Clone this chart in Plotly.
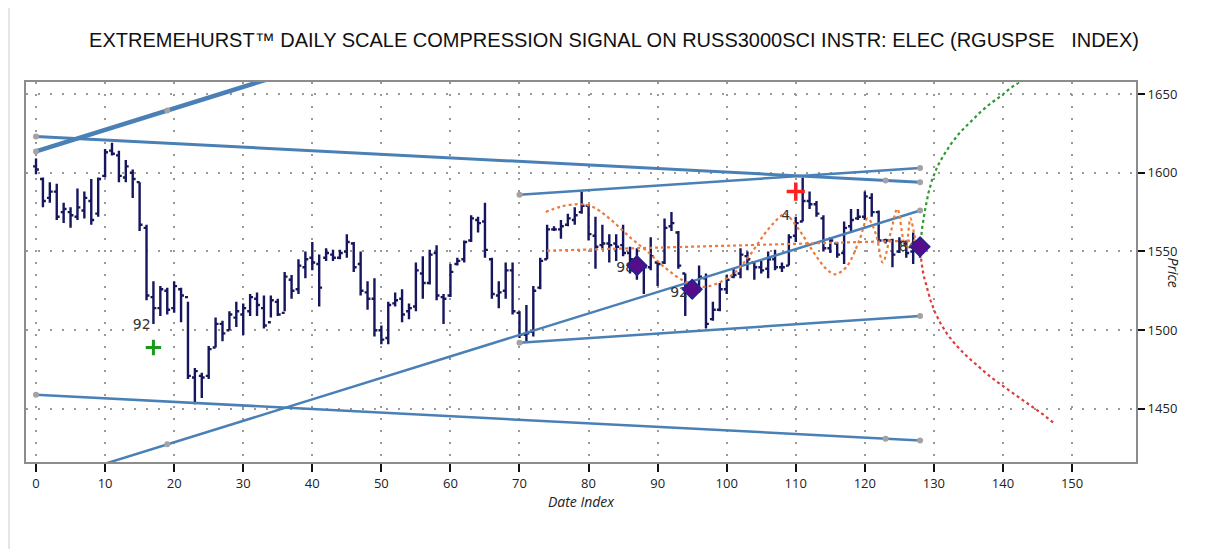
import plotly.graph_objects as go

# ---------------- data ----------------
bar_index = list(range(129))
opens = [1604,1596,1584,1588,1575,1575,1572,1576,1582,1574,1598,1614,1611,1597,1600,1594,1565,1521,1514,1525,
         1514,1526,1521,1470,1471,1471,1489,1504,1500,1508,1510,1512,1520,1514,1505,1518,1511,1532,1526,1540,
         1546,1542,1546,1548,1546,1550,1555,1542,1524,1520,1500,1495,1517,1520,1512,1515,1536,1530,1549,1521,
         1522,1542,1545,1557,1570,1569,1545,1522,1525,1538,1511,1497,1499,1527,1545,1564,1564,1567,1570,1575,
         1579,1560,1554,1555,1555,1554,1549,1545,1541,1540,1543,1543,1566,1562,1536,1527,1526,1533,1507,1513,
         1526,1534,1536,1547,1543,1540,1539,1545,1540,1541,1560,1569,1582,1580,1571,1552,1555,1549,1566,1571,
         1572,1584,1575,1557,1557,1550,1555,1550,1553]
highs = [1609,1597,1594,1593,1581,1578,1590,1588,1596,1597,1615,1619,1614,1608,1602,1594,1567,1531,1528,1527,
         1531,1527,1518,1476,1473,1490,1508,1506,1512,1518,1517,1523,1524,1522,1522,1520,1537,1535,1545,1550,
         1556,1548,1552,1551,1551,1561,1556,1550,1531,1533,1503,1518,1524,1526,1517,1543,1547,1551,1554,1523,
         1542,1546,1557,1573,1572,1581,1546,1531,1543,1543,1512,1516,1528,1546,1567,1566,1570,1574,1578,1588,
         1580,1572,1567,1561,1561,1567,1553,1552,1542,1559,1544,1571,1575,1563,1536,1530,1541,1536,1518,1530,
         1535,1539,1552,1550,1544,1544,1550,1551,1543,1561,1572,1597,1588,1582,1573,1559,1556,1569,1577,1577,
         1588,1587,1576,1558,1558,1559,1557,1562,1555]
lows = [1599,1578,1581,1570,1568,1565,1570,1571,1567,1572,1597,1611,1594,1594,1584,1563,1519,1504,1509,1510,
        1511,1505,1469,1453,1457,1469,1489,1493,1500,1502,1497,1509,1509,1501,1508,1509,1512,1520,1523,1533,
        1538,1515,1544,1544,1545,1546,1537,1522,1513,1496,1491,1491,1515,1505,1507,1512,1520,1529,1519,1504,
        1521,1541,1543,1556,1562,1546,1520,1514,1520,1510,1495,1493,1496,1526,1545,1563,1558,1566,1567,1574,
        1557,1539,1551,1543,1544,1547,1536,1532,1523,1538,1528,1542,1563,1539,1509,1520,1524,1501,1506,1512,
        1523,1533,1533,1538,1532,1536,1533,1538,1537,1541,1556,1569,1577,1572,1550,1549,1546,1542,1562,1570,
        1570,1572,1556,1555,1540,1549,1546,1542,1546]
closes = [1602,1582,1588,1572,1577,1573,1578,1584,1570,1596,1613,1612,1598,1604,1596,1567,1522,1514,1526,1513,
          1528,1522,1471,1474,1470,1488,1504,1498,1510,1512,1514,1521,1516,1503,1519,1510,1534,1525,1541,1545,
          1543,1527,1549,1546,1549,1556,1540,1525,1520,1500,1494,1516,1519,1510,1514,1538,1530,1548,1522,1520,
          1537,1544,1556,1571,1568,1551,1523,1524,1538,1512,1497,1498,1525,1544,1564,1564,1566,1571,1573,1579,
          1561,1553,1555,1554,1553,1549,1545,1540,1540,1547,1542,1565,1568,1541,1526,1525,1534,1504,1513,1526,
          1532,1535,1548,1545,1540,1538,1545,1540,1540,1559,1568,1582,1580,1574,1552,1557,1548,1565,1570,1572,
          1585,1575,1557,1557,1548,1556,1549,1555,1552]

# trend lines: (x0, y0, x1, y1, width)
trend_x0 = [0, 0, 70, 70, 5, 0]
trend_y0 = [1613.5, 1623, 1586, 1492, 1408.4, 1459]
trend_x1 = [40, 128, 128, 128, 128, 128]
trend_y1 = [1668.2, 1594, 1603, 1509, 1576, 1430]
trend_w = [4.5, 3, 2.5, 2.5, 2.5, 2.5]

anchor_x = [0, 19, 0, 123, 128, 70, 128, 70, 128, 19, 128, 0, 123, 128]
anchor_y = [1613.5, 1639.5, 1623, 1595, 1594, 1586, 1603, 1492, 1509, 1427.5, 1576, 1459, 1431, 1430]

# cycle projection curves
orange_x = [73.8, 76, 78.5, 80.5, 83, 86, 88.5, 91, 93.5, 96.3, 98.5, 101, 103.4, 105.8, 107.7, 108.4,
            110.6, 112.5, 114.4, 115.7, 117.3, 119.2, 120.4, 121.6, 122.6, 123.8, 124.7, 125.6, 126,
            126.6, 127.2, 127.7]
orange_y = [1575, 1578.5, 1580, 1578.5, 1571, 1559, 1550, 1540, 1532, 1527.5, 1529.5, 1536, 1548, 1563,
            1572, 1574, 1563, 1550, 1539, 1535.5, 1540, 1557, 1571, 1561, 1543, 1563, 1577, 1557, 1553,
            1571, 1560, 1552]
flat_x = [74, 128]
flat_y = [1550.5, 1557]

green_x = [128, 128.3, 128.7, 129.2, 129.7, 130.5, 131.4, 132.5, 133.8, 135.2, 136.7, 138.2, 139.8,
           141, 142.2, 143]
green_y = [1553, 1565, 1576, 1587, 1595, 1604, 1611, 1618.5, 1625.7, 1632, 1638.4, 1644, 1649,
           1653.5, 1657, 1660]
red_x = [128, 128.2, 128.5, 129, 129.5, 130.2, 131, 132, 133.2, 134.5, 136, 137.6, 139.2,
         140.8, 142.4, 144, 145.8, 147.5]
red_y = [1553, 1543, 1535, 1526, 1519, 1511, 1504, 1497, 1490.5, 1484.5, 1478.5, 1472.5, 1467,
         1462, 1457, 1452, 1446.5, 1440.6]

diamond_x = [87, 95, 128]
diamond_y = [1541, 1526, 1553]
label_x = [16.6, 86.6, 94.4, 109.2, 127.5]
label_y = [1503, 1539, 1523.3, 1572.3, 1552.5]
label_text = ["92", "98", "92", "4", "84"]
buy_x, buy_y = [17], [1489]
sell_x, sell_y = [110], [1588]

x_ticks = list(range(0, 151, 10))
y_ticks = [1450, 1500, 1550, 1600, 1650]

TITLE = "EXTREMEHURST\u2122 DAILY SCALE COMPRESSION SIGNAL ON RUSS3000SCI INSTR: ELEC (RGUSPSE\u00a0\u00a0\u00a0INDEX)"

# ---------------- figure ----------------
# the html page adds an 8px body margin, so the figure is laid out 8px up/left
W, H = 1202, 541
L, R, T, B = 18, 74, 74, 87
PW, PH = W - L - R, H - T - B

fig = go.Figure()
LINE_C = "#4a80b6"

for x0, y0, x1, y1, w in zip(trend_x0, trend_y0, trend_x1, trend_y1, trend_w):
    fig.add_trace(go.Scatter(x=[x0, x1], y=[y0, y1], mode="lines",
                             line=dict(color=LINE_C, width=w), hoverinfo="skip"))

fig.add_trace(go.Scatter(x=anchor_x, y=anchor_y, mode="markers",
                         marker=dict(color="#a3a3a3", size=6), hoverinfo="skip"))

fig.add_trace(go.Scatter(x=flat_x, y=flat_y, mode="lines",
                         line=dict(color="#ee7a3a", width=2.2, dash="dot"), hoverinfo="skip"))
fig.add_trace(go.Scatter(x=orange_x, y=orange_y, mode="lines", line_shape="spline",
                         line=dict(color="#ee7a3a", width=2.2, dash="dot"), hoverinfo="skip"))

fig.add_trace(go.Ohlc(x=bar_index, open=opens, high=highs, low=lows, close=closes,
                      increasing=dict(line=dict(color="#16165e", width=2.4)),
                      decreasing=dict(line=dict(color="#16165e", width=2.4)),
                      tickwidth=0.42, hoverinfo="skip"))

fig.add_trace(go.Scatter(x=green_x, y=green_y, mode="lines",
                         line=dict(color="#2c9a2c", width=2.2, dash="dot"), hoverinfo="skip"))
fig.add_trace(go.Scatter(x=red_x, y=red_y, mode="lines",
                         line=dict(color="#e23a3a", width=2.2, dash="dot"), hoverinfo="skip"))

fig.add_trace(go.Scatter(x=label_x, y=label_y, mode="text", text=label_text,
                         textposition="middle left",
                         textfont=dict(family="DejaVu Sans", size=14, color="#333333"),
                         hoverinfo="skip"))

fig.add_trace(go.Scatter(x=diamond_x, y=diamond_y, mode="markers",
                         marker=dict(symbol="diamond", size=15, color="#560d8c",
                                     line=dict(color="#22228e", width=1.5)), hoverinfo="skip"))
fig.add_trace(go.Scatter(x=buy_x, y=buy_y, mode="markers",
                         marker=dict(symbol="cross-thin", size=11, color="#1a9a1a",
                                     line=dict(color="#1a9a1a", width=3)), hoverinfo="skip"))
fig.add_trace(go.Scatter(x=sell_x, y=sell_y, mode="markers",
                         marker=dict(symbol="cross-thin", size=13, color="#ff2020",
                                     line=dict(color="#ff2020", width=3.5)), hoverinfo="skip"))

fig.update_layout(
    width=W, height=H,
    margin=dict(l=L, r=R, t=T, b=B),
    paper_bgcolor="white", plot_bgcolor="white",
    showlegend=False,
    font=dict(family="Open Sans", size=13, color="#222222"),
    title=dict(text=TITLE, x=(614 - 8) / W, xref="container", xanchor="center",
               y=1 - (40 - 8) / H, yref="container", yanchor="middle",
               font=dict(family="Liberation Sans", size=20, color="#111111")),
    xaxis=dict(range=[-1.45, 159.26], tickmode="array", tickvals=x_ticks,
               rangeslider=dict(visible=False),
               showgrid=True, gridcolor="#999999", gridwidth=1.6, griddash="2px,10px",
               zeroline=False, showline=True, linecolor="#8c8c8c", linewidth=2, mirror=True,
               ticks="outside", ticklen=8, tickwidth=2, tickcolor="#111111",
               tickfont=dict(family="Open Sans", size=13, color="#222222"),
               title=dict(text="<i>Date Index</i>", standoff=6,
                          font=dict(family="Open Sans", size=14, color="#222222"))),
    yaxis=dict(range=[1416.3, 1657.6], side="right", tickmode="array", tickvals=y_ticks,
               showgrid=True, gridcolor="#999999", gridwidth=1.6, griddash="2px,10px",
               zeroline=False, showline=True, linecolor="#8c8c8c", linewidth=2, mirror=True,
               ticks="outside", ticklen=7, tickwidth=2, tickcolor="#111111",
               tickfont=dict(family="Open Sans", size=13, color="#222222")),
)

fig.add_annotation(text="<i>Price</i>", xref="paper", yref="paper",
                   x=(1185 - 8 - L) / PW, y=(H - B - (272 - 8)) / PH, showarrow=False, textangle=90,
                   font=dict(family="Open Sans", size=14, color="#222222"))

# faint page border seen at the left edge of the original screenshot
fig.add_shape(type="line", xref="paper", yref="paper",
              x0=(1 - L) / PW, x1=(1 - L) / PW, y0=(H - B) / PH, y1=-B / PH,
              line=dict(color="#dddddd", width=1.5))

fig.write_html("out.html")
